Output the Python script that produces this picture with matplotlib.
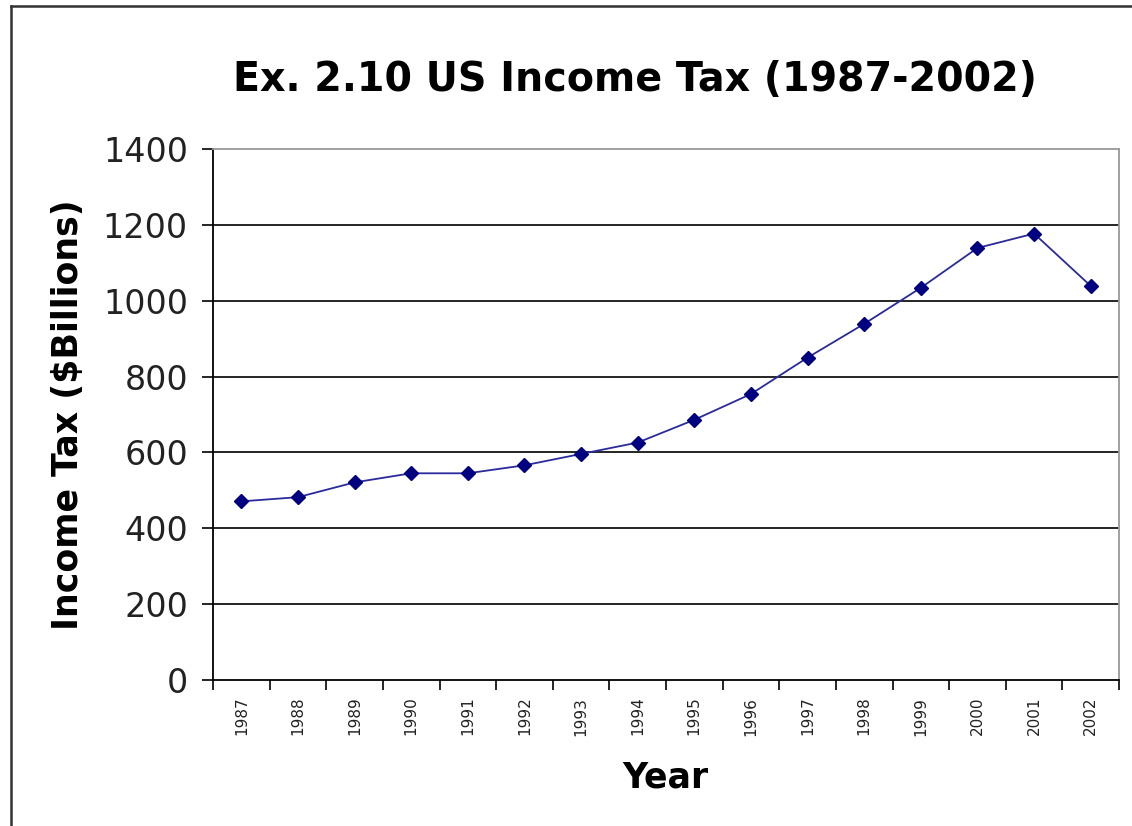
import matplotlib.pyplot as plt
from matplotlib.lines import Line2D
import numpy as np

years = ["1987", "1988", "1989", "1990", "1991", "1992", "1993", "1994",
         "1995", "1996", "1997", "1998", "1999", "2000", "2001", "2002"]
income_tax = [471, 482, 521, 545, 545, 566, 596, 626,
              686, 754, 850, 939, 1034, 1139, 1177, 1039]
y_ticks = [0, 200, 400, 600, 800, 1000, 1200, 1400]

plt.rcParams['font.family'] = ['DejaVu Sans']

fig = plt.figure(figsize=(11.32, 8.26), dpi=100)
ax = fig.add_axes([213/1132, 1 - 680/826, (1119 - 213)/1132, (680 - 149)/826])

# points sit in the middle of each category slot
x = np.arange(len(years)) + 0.5
ax.plot(x, income_tax, color='#2a2a9c', linewidth=1.3,
        marker='D', markersize=7, markerfacecolor='#000080',
        markeredgecolor='#000080')

ax.set_xlim(0, len(years))
ax.set_ylim(0, 1400)
ax.set_yticks(y_ticks)
ax.set_yticklabels([str(v) for v in y_ticks], fontsize=24, color='#222222')

# category boundaries carry the tick marks, labels go in between
ax.set_xticks(np.arange(len(years) + 1))
ax.set_xticklabels([])
ax.set_xticks(x, minor=True)
ax.set_xticklabels(years, minor=True, rotation=90, fontsize=11, color='#222222')
ax.tick_params(axis='x', which='major', direction='out', length=7, width=1.2)
ax.tick_params(axis='x', which='minor', length=0, pad=12)
ax.tick_params(axis='y', direction='out', length=8, width=1.2, pad=10)

for v in y_ticks[1:-1]:
    ax.axhline(v, color='black', linewidth=1.2, zorder=0)

ax.spines['left'].set_color('black')
ax.spines['left'].set_linewidth(1.3)
ax.spines['bottom'].set_color('black')
ax.spines['bottom'].set_linewidth(1.3)
ax.spines['top'].set_color('#999999')
ax.spines['right'].set_color('#999999')
ax.spines['top'].set_linewidth(1.3)
ax.spines['right'].set_linewidth(1.3)

fig.text(635/1132, 1 - 80/826, "Ex. 2.10 US Income Tax (1987-2002)",
         fontsize=28.5, fontweight='bold', ha='center', va='center')
fig.text(68/1132, 1 - 415/826, "Income Tax ($Billions)", rotation=90,
         fontsize=25, fontweight='bold', ha='center', va='center')
fig.text(665/1132, 1 - 778/826, "Year",
         fontsize=25, fontweight='bold', ha='center', va='center')

# outer chart frame
fig.add_artist(Line2D([11/1132, 11/1132], [0, 1 - 6/826], transform=fig.transFigure,
                      color='#333333', linewidth=1.8))
fig.add_artist(Line2D([11/1132, 1], [1 - 6/826, 1 - 6/826], transform=fig.transFigure,
                      color='#333333', linewidth=1.8))

fig.savefig("out.png", dpi=100)
